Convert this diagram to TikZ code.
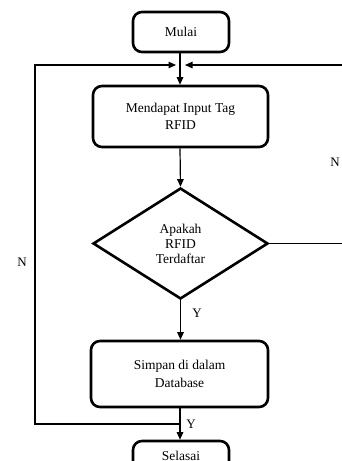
\documentclass[tikz,border=0pt]{standalone}
\usepackage{fontspec}
\setmainfont{Liberation Serif}
\usetikzlibrary{shapes.geometric,arrows.meta}
\begin{document}
\begin{tikzpicture}[x=1pt,y=-1pt,
  box/.style={draw,line width=2.6pt,rounded corners=9pt,align=center,inner sep=0pt,font=\fontsize{13.5}{17.5}\selectfont},
  dec/.style={draw,diamond,line width=2.6pt,inner sep=0pt,align=center,aspect=1.58,font=\fontsize{13.5}{15}\selectfont},
  conn/.style={line width=1.2pt,-{Triangle[length=7.5pt,width=6.5pt]}},
  lbl/.style={font=\fontsize{13}{14}\selectfont,inner sep=0pt}]
\useasboundingbox (0,0) rectangle (342,461);
\clip (0,0) rectangle (342,461);
\node[box,minimum width=96pt,minimum height=40pt] (mulai) at (181,32) {Mulai};
\node[box,minimum width=175pt,minimum height=61pt] (input) at (180.5,116.5) {Mendapat Input Tag\\RFID};
\node[dec,minimum width=175pt,minimum height=111pt] (cek) at (180.5,243.5) {Apakah\\RFID\\Terdaftar};
\node[box,minimum width=177pt,minimum height=66pt] (simpan) at (179.5,374) {Simpan di dalam\\Database};
\node[box,minimum width=96pt,minimum height=40pt] (selesai) at (181,461) {\raisebox{10pt}{Selasai}};
\coordinate (j) at (180,65);
\coordinate (jl) at (176,65);
\coordinate (jr) at (185,65);
\coordinate (lb) at (35,424);
\coordinate (lt) at (35,65);
\coordinate (rb) at (352,243.5);
\coordinate (rt) at (352,65);
\coordinate (yb) at (180,424);
\draw[conn] (mulai.south -| j) -- (input.north -| j);
\draw[conn] (input.south -| j) -- (cek.north);
\draw[conn] (cek.south) -- (simpan.north -| cek.south);
\draw[conn] (simpan.south -| yb) -- (selesai.north -| yb);
\draw[conn] (yb) -- (lb) -- (lt) -- (jl);
\draw[conn] (cek.east) -- (rb) -- (rt) -- (jr);
\node[lbl] (n1) at (22,262) {N};
\node[lbl] (n2) at (335,162) {N};
\node[lbl] (y1) at (197,313) {Y};
\node[lbl] (y2) at (191,424) {Y};
\end{tikzpicture}
\end{document}
